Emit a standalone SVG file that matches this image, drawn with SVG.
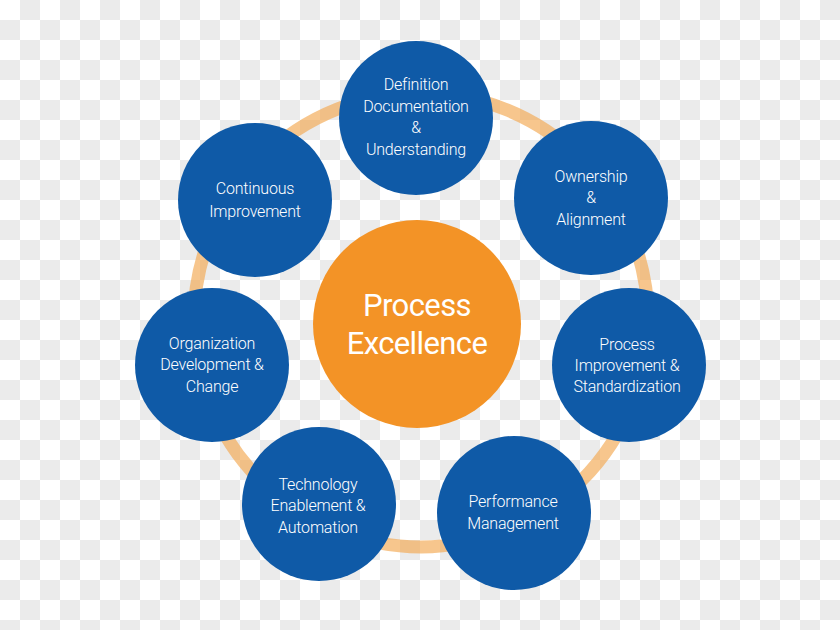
<svg xmlns="http://www.w3.org/2000/svg" width="840" height="630" viewBox="0 0 840 630">
  <defs>
    <pattern id="checker" x="0" y="0" width="40" height="40" patternUnits="userSpaceOnUse">
      <rect width="40" height="40" fill="#ffffff"/>
      <rect x="20" y="0" width="20" height="20" fill="#ebebeb"/>
      <rect x="0" y="20" width="20" height="20" fill="#ebebeb"/>
    </pattern>
    <style>
      .node { fill: #0f5aa7; }
      .hub { fill: #f39326; }
      .lbl { font-family: Roboto, "Liberation Sans", Arial, sans-serif; font-weight: 300; font-size: 16px; fill: #ffffff; text-anchor: middle; letter-spacing: -0.2px; }
      .hubl { font-family: Roboto, "Liberation Sans", Arial, sans-serif; font-weight: 400; font-size: 31px; fill: #ffffff; text-anchor: middle; letter-spacing: -0.6px; }
      .ring { fill: none; stroke: #f3a850; stroke-opacity: 0.65; stroke-width: 13; }
    </style>
  </defs>
  <rect width="840" height="630" fill="url(#checker)"/>
  <g id="connectors">
    <circle class="ring" cx="421" cy="320" r="227"/>
  </g>
  <g id="center">
    <circle class="hub" cx="417" cy="324" r="104"/>
    <text class="hubl" x="417" y="316">Process</text>
    <text class="hubl" x="417" y="354">Excellence</text>
  </g>
  <g id="definition">
    <circle class="node" cx="416" cy="118" r="77"/>
    <text class="lbl" x="416" y="90">Definition</text>
    <text class="lbl" x="416" y="112">Documentation</text>
    <text class="lbl" x="416" y="133">&amp;</text>
    <text class="lbl" x="416" y="155">Understanding</text>
  </g>
  <g id="ownership">
    <circle class="node" cx="591" cy="198" r="77"/>
    <text class="lbl" x="591" y="182">Ownership</text>
    <text class="lbl" x="591" y="203">&amp;</text>
    <text class="lbl" x="591" y="225">Alignment</text>
  </g>
  <g id="process-improvement">
    <circle class="node" cx="629" cy="365" r="77"/>
    <text class="lbl" x="627" y="350">Process</text>
    <text class="lbl" x="627" y="371">Improvement &amp;</text>
    <text class="lbl" x="627" y="392">Standardization</text>
  </g>
  <g id="performance">
    <circle class="node" cx="514" cy="513" r="77"/>
    <text class="lbl" x="513" y="507">Performance</text>
    <text class="lbl" x="513" y="529">Management</text>
  </g>
  <g id="technology">
    <circle class="node" cx="319" cy="504" r="77"/>
    <text class="lbl" x="318" y="490">Technology</text>
    <text class="lbl" x="318" y="511">Enablement &amp;</text>
    <text class="lbl" x="318" y="533">Automation</text>
  </g>
  <g id="organization">
    <circle class="node" cx="212" cy="365" r="77"/>
    <text class="lbl" x="212" y="349">Organization</text>
    <text class="lbl" x="212" y="370">Development &amp;</text>
    <text class="lbl" x="212" y="392">Change</text>
  </g>
  <g id="continuous">
    <circle class="node" cx="255" cy="200" r="77"/>
    <text class="lbl" x="255" y="194">Continuous</text>
    <text class="lbl" x="255" y="217">Improvement</text>
  </g>
</svg>
